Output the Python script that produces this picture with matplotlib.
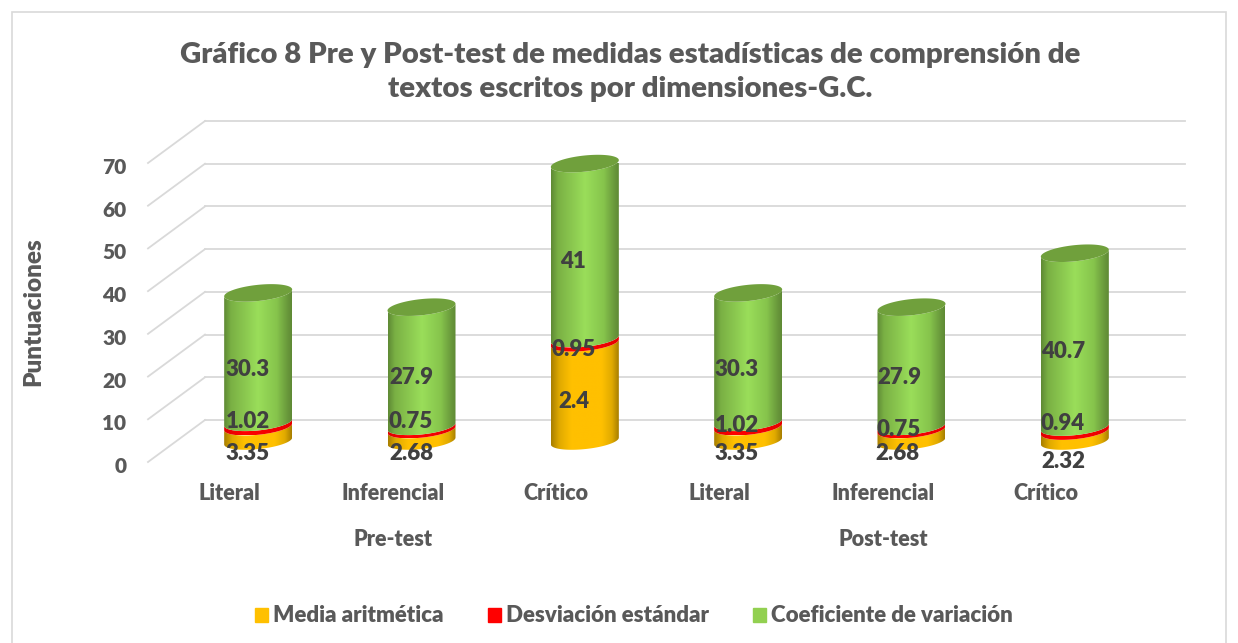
import numpy as np
import matplotlib
matplotlib.use("Agg")
import matplotlib.pyplot as plt
from matplotlib.patches import Patch, Polygon
from matplotlib.path import Path
from matplotlib.transforms import Affine2D, IdentityTransform
from matplotlib.colors import LinearSegmentedColormap

plt.rcParams['font.family'] = ['Lato', 'DejaVu Sans']
plt.rcParams['font.weight'] = 'heavy'

# ---------- data ----------
categories = ["Literal", "Inferencial", "Crítico", "Literal", "Inferencial", "Crítico"]
groups = ["Pre-test", "Post-test"]
series_names = ["Media aritmética", "Desviación estándar", "Coeficiente de variación"]
media = [3.35, 2.68, 23.0, 3.35, 2.68, 2.32]          # drawn height
desviacion = [1.02, 0.75, 0.95, 1.02, 0.75, 0.94]
coeficiente = [30.3, 27.9, 41.0, 30.3, 27.9, 40.7]
media_labels = ["3.35", "2.68", "2.4", "3.35", "2.68", "2.32"]   # as printed
desv_labels = ["1.02", "0.75", "0.95", "1.02", "0.75", "0.94"]
coef_labels = ["30.3", "27.9", "41", "30.3", "27.9", "40.7"]
y_ticks = [0, 10, 20, 30, 40, 50, 60, 70]

# ---------- layout (pixels of the 1238x643 picture) ----------
W, H = 1238, 643
media_pos = [(248, 454), (411, 454), (574, 401), (737, 454), (897, 454), (1063, 462)]
desv_pos = [(248, 421), (411, 422), (574, 350), (737, 426), (899, 430), (1063, 423)]
coef_pos = [(248, 369), (411, 377), (573, 261), (737, 369), (899, 377), (1063, 351)]
DEPTH_X, DEPTH_Y = 57, 42
A, B, K = 34, 8.1, 0.10
GRID = "#d9d9d9"
TXT = "#595959"
LAB = "#404040"

fig = plt.figure(figsize=(W / 100, H / 100), dpi=100, facecolor="white")
ax = fig.add_axes([148 / W, (H - 462) / H, 980 / W, 299 / H])
ax.set_xlim(-0.5, 5.5)
ax.set_ylim(0, 70)
ax.set_autoscale_on(False)
ax.patch.set_alpha(0)
for s in ax.spines.values():
    s.set_visible(False)


def px(x, y):
    return x / W, (H - y) / H


fig.add_artist(plt.Rectangle((11.5 / W, -0.01), (1226 - 11.5) / W, (H - 12) / H + 0.01,
                             transform=fig.transFigure, fc="white", ec=GRID, lw=1.2, zorder=-5))

# walls: back grid lines and floor/side diagonals
back = Affine2D().translate(DEPTH_X, DEPTH_Y)
for v in y_ticks:
    ax.plot([-0.5, 5.5], [v, v], color=GRID, lw=1.3, transform=ax.transData + back, clip_on=False, zorder=1)
    x0, y0 = ax.transData.transform((-0.5, v))
    ax.plot([x0, x0 + DEPTH_X], [y0, y0 + DEPTH_Y], color=GRID, lw=1.3,
            transform=IdentityTransform(), clip_on=False, zorder=1)

cmaps = {
    "o": LinearSegmentedColormap.from_list("o", [(0, "#a87f00"), (.12, "#e0aa00"), (.3, "#ffc000"), (.75, "#ffc000"),
                                                 (.9, "#e0aa00"), (1, "#a87f00")]),
    "r": LinearSegmentedColormap.from_list("r", [(0, "#e00000"), (.3, "#ff0000"), (1, "#e80000")]),
    "g": LinearSegmentedColormap.from_list("g", [(0, "#5f8a35"), (.1, "#7ab044"), (.5, "#9ade5a"), (.78, "#86c44c"),
                                                 (.93, "#6a9a3c"), (1, "#5f8a35")]),
}
grad = np.linspace(0, 1, 128).reshape(1, -1)
t_low = np.linspace(np.pi, 2 * np.pi, 50)
t_all = np.linspace(0, 2 * np.pi, 100)


def disp(i, v):
    x, y = ax.transData.transform((i, v))
    return x + DEPTH_X / 2, y + DEPTH_Y / 2


def arc(cx, cy, t):
    return np.column_stack([cx + A * np.cos(t), cy + B * np.sin(t) + K * A * np.cos(t)])


def segment(i, v0, v1, key):
    cx, y0 = disp(i, v0)
    _, y1 = disp(i, v1)
    poly = np.vstack([arc(cx, y0, t_low), arc(cx, y1, t_low)[::-1]])
    path = Path(np.vstack([poly, poly[0]]), closed=True)
    im = ax.imshow(grad, cmap=cmaps[key], aspect="auto", interpolation="bilinear",
                   extent=(cx - A, cx + A, poly[:, 1].min(), poly[:, 1].max()),
                   transform=IdentityTransform(), zorder=3 + i * 0.01)
    im.set_clip_path(path, IdentityTransform())


for i in range(len(categories)):
    a = media[i]
    b = a + desviacion[i]
    c = b + coeficiente[i]
    segment(i, 0, a, "o")
    segment(i, a, b, "r")
    segment(i, b, c, "g")
    cx, yt = disp(i, c)
    ax.add_patch(Polygon(arc(cx, yt, t_all), closed=True, fc="#70a03c", ec="none",
                         transform=IdentityTransform(), zorder=3.5, clip_on=False))

# data labels
for labels, pos in ((media_labels, media_pos), (desv_labels, desv_pos), (coef_labels, coef_pos)):
    for lab, (x, y) in zip(labels, pos):
        fig.text(*px(x, y), lab, ha="center", va="center", fontsize=16, color=LAB, zorder=10)

# axes text
ax.set_yticks(y_ticks)
ax.set_xticks(range(len(categories)))
ax.set_xticklabels(categories)
ax.tick_params(axis="y", length=0, pad=15.5, labelsize=15, labelcolor=TXT)
ax.tick_params(axis="x", length=0, pad=15, labelsize=15.5, labelcolor=TXT)
for lbl in ax.get_yticklabels():
    lbl.set_transform(lbl.get_transform() + Affine2D().translate(0, -3))
for g, xc in zip(groups, (1, 4)):
    x_disp = ax.transData.transform((xc, 0))[0]
    fig.text(x_disp / W, (H - 540) / H, g, ha="center", va="center", fontsize=15.5, color=TXT)
fig.text(*px(33, 312), "Puntuaciones", rotation=90, ha="center", va="center", fontsize=17.5, color=TXT)
fig.text(*px(630, 72), "Gráfico 8 Pre y Post-test de medidas estadísticas de comprensión de\ntextos escritos por dimensiones-G.C.",
         ha="center", va="center", fontsize=21.15, color=TXT, linespacing=1.42)

# legend
handles = [Patch(color=c) for c in ("#ffc000", "#ff0000", "#92d050")]
fig.legend(handles, series_names, loc="center", bbox_to_anchor=px(634, 616), ncol=3, frameon=False,
           fontsize=16, labelcolor=TXT, handlelength=0.585, handleheight=0.585, handletextpad=0.225,
           columnspacing=1.98, borderpad=0)

fig.savefig("out.png", dpi=100, facecolor="white")
